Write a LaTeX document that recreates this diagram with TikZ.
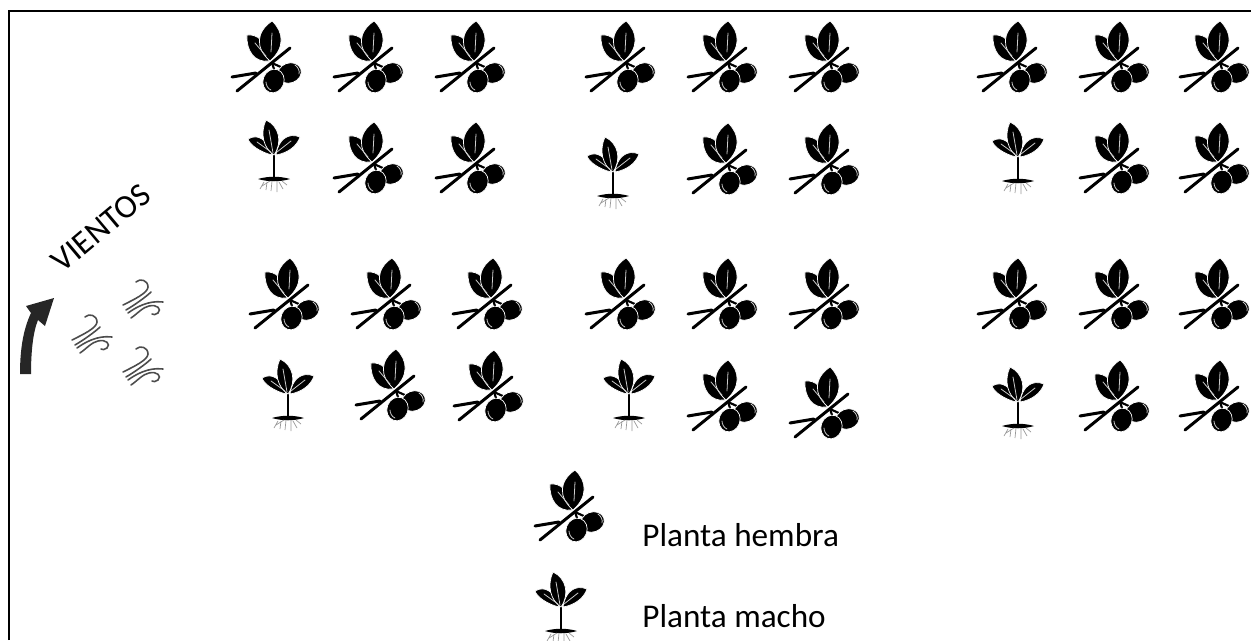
\documentclass[tikz,border=0pt]{standalone}
\usepackage{fontspec}
\setmainfont{Carlito}

\tikzset{
    hoja/.style={fill=black,draw=white,line width=0.4pt},
    vena/.style={draw=white!80!black,line width=0.45pt,line cap=round},
    rama/.style={draw=black,line width=1.7pt,line cap=round},
    raiz/.style={draw=black!40,line width=0.4pt},
    rafaga/.style={draw=black!70,line width=0.9pt,line cap=round},
    rotulo/.style={font=\fontsize{18.9pt}{21pt}\selectfont,anchor=base west,inner sep=0pt},
    % planta hembra: origen en el cruce de la rama
    pics/hembra/.style={code={
        \draw [rama] (-33,31) -- (20,-12);
        \draw [rama] (-38,17) -- (-14,13);
        \draw [rama,line width=1.2pt] (2,3) -- (5,12);
        \draw [rama,line width=1.2pt] (2,3) -- (13,8);
        \filldraw [hoja] (-1,1) .. controls (-15,3) and (-24,-9) .. (-23,-25)
            .. controls (-13,-26) and (-4,-20) .. (-1,1) -- cycle;
        \filldraw [hoja] (0,1) .. controls (-15,-12) and (-14,-28) .. (2,-39)
            .. controls (14,-28) and (15,-12) .. (0,1) -- cycle;
        \draw [vena] (1,-8) -- (2,-27);
        \draw [vena] (-4,-4) -- (-15,-17);
        \filldraw [hoja,rotate around={20:(19.5,13)}] (19.5,13) ellipse [x radius=12,y radius=10];
        \filldraw [hoja,rotate around={-20:(3.5,21)}] (3.5,21) ellipse [x radius=10.5,y radius=12];
        \draw [vena] (25,5) .. controls (28,7) and (30,11) .. (29,14);
        \draw [vena] (-4,22) .. controls (-4,25) and (-2,29) .. (1,30);
    }},
    % planta macho: origen al pie del tallo
    pics/macho/.style={code={
        \draw [rama,line width=1.6pt,line cap=butt] (0,1) -- (0,-25);
        \fill (-16,1) .. controls (-6,-2) and (6,-2) .. (16,1)
            .. controls (6,4) and (-6,4) .. (-16,1) -- cycle;
        \filldraw [hoja] (-2,-23) .. controls (-14,-26) and (-24,-33) .. (-26,-39)
            .. controls (-16,-45) and (-6,-38) .. (-2,-23) -- cycle;
        \filldraw [hoja] (2,-23) .. controls (14,-25) and (23,-32) .. (26,-41)
            .. controls (14,-46) and (4,-38) .. (2,-23) -- cycle;
        \filldraw [hoja] (0,-23) .. controls (-11,-30) and (-14,-45) .. (-8,-58)
            .. controls (5,-52) and (9,-36) .. (0,-23) -- cycle;
        \draw [vena] (-1,-25) -- (-5,-48);
        \draw [vena] (-3,-26) -- (-17,-36);
        \draw [vena] (3,-26) -- (17,-37);
        \draw [raiz] (-4,3) -- (-12,8) (-7,4) -- (-8,12) (-2,3) -- (-3,13)
            (3,3) -- (3,14) (5,4) -- (9,11) (8,3) -- (13,7) (-10,4) -- (-14,11);
    }},
    % viento: origen en el centro del dibujo
    pics/viento/.style={code={
        \draw [rafaga] (-7,-18) .. controls (-3,-22) and (5,-20) .. (5,-13)
            .. controls (5,-7) and (-10,0) .. (-20,5);
        \draw [rafaga] (-17,10) .. controls (-10,6) and (3,-3) .. (8,-8);
        \draw [rafaga] (-15,13) .. controls (-8,8) and (5,0) .. (20,2);
        \draw [rafaga] (-12,18) .. controls (-6,14) and (0,7) .. (6,6)
            .. controls (14,4) and (19,9) .. (15,13) .. controls (13,15) and (10,15) .. (9,14);
    }},
}

\begin{document}
\begin{tikzpicture}[x=0.02cm,y=-0.02cm]
    \useasboundingbox (0,0) rectangle (1251,640);

    % marco
    \draw [line width=1.2pt] (9,640) -- (9,11) -- (1251,11);

    % fila 1
    \pic at (270,60) {hembra};
    \pic at (372,60) {hembra};
    \pic at (474,60) {hembra};
    \pic at (624,60) {hembra};
    \pic at (726,60) {hembra};
    \pic at (828,60) {hembra};
    \pic at (1016,60) {hembra};
    \pic at (1118,60) {hembra};
    \pic at (1218,60) {hembra};

    % fila 2
    \pic at (274,178) {macho};
    \pic at (372,161) {hembra};
    \pic at (474,161) {hembra};
    \pic at (613,195) {macho};
    \pic at (726,162) {hembra};
    \pic at (828,162) {hembra};
    \pic at (1018,180) {macho};
    \pic at (1118,161) {hembra};
    \pic at (1218,161) {hembra};

    % fila 3
    \pic at (288,297) {hembra};
    \pic at (390,297) {hembra};
    \pic at (491,297) {hembra};
    \pic at (624,297) {hembra};
    \pic at (726,297) {hembra};
    \pic at (828,297) {hembra};
    \pic at (1016,297) {hembra};
    \pic at (1118,297) {hembra};
    \pic at (1218,297) {hembra};

    % fila 4
    \pic at (288,417) {macho};
    \pic at (394,388) {hembra};
    \pic at (492,389) {hembra};
    \pic at (629,417) {macho};
    \pic at (726,399) {hembra};
    \pic at (828,406) {hembra};
    \pic at (1018,425) {macho};
    \pic at (1118,399) {hembra};
    \pic at (1218,399) {hembra};

    % vientos
    \node [rotulo,rotate=40,anchor=center] (vientos) at (101,228) {VIENTOS};
    \pic at (143,300) {viento};
    \pic at (92,335) {viento};
    \pic at (143,367) {viento};
    \fill [black!85] (20,374) .. controls (20,350) and (23,330) .. (31,313)
        -- (26,306) -- (54,298) -- (45,326) -- (38,320)
        .. controls (33,332) and (31,352) .. (31,374) -- cycle;

    % leyenda
    \pic at (573,509) {hembra};
    \pic at (561,630) {macho};
    \node [rotulo] (hembra) at (642,546) {Planta hembra};
    \node [rotulo] (macho) at (642,627) {Planta macho};

\end{tikzpicture}
\end{document}
